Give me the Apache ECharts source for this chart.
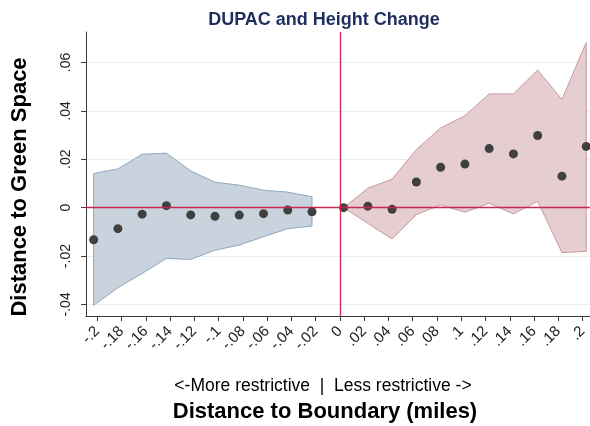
<!DOCTYPE html>
<html>
<head>
<meta charset="utf-8">
<script src="https://cdn.jsdelivr.net/npm/echarts@6.0.0/dist/echarts.min.js"></script>
<style>
  html, body { margin: 0; padding: 0; background: #fff; }
  #chart { width: 590px; height: 426px; }
</style>
</head>
<body>
<div id="chart"></div>
<script>
// left side (more restrictive)
const xLeft = [-0.203, -0.183, -0.163, -0.143, -0.123, -0.103, -0.083, -0.063, -0.043, -0.023]
const estLeft = [-0.0133, -0.0087, -0.0027, 0.0008, -0.0030, -0.0036, -0.0031, -0.0025, -0.0010, -0.0017]
const hiLeft = [0.0141, 0.0160, 0.0221, 0.0225, 0.0152, 0.0105, 0.0093, 0.0072, 0.0064, 0.0045]
const loLeft = [-0.0404, -0.0331, -0.0272, -0.0210, -0.0214, -0.0176, -0.0155, -0.0120, -0.0087, -0.0076]

// right side (less restrictive)
const xRight = [0.003, 0.023, 0.043, 0.063, 0.083, 0.103, 0.123, 0.143, 0.163, 0.183, 0.203]
const estRight = [0.0000, 0.0006, -0.0007, 0.0106, 0.0167, 0.0180, 0.0244, 0.0222, 0.0298, 0.0130, 0.0253]
const hiRight = [0.0000, 0.0080, 0.0118, 0.0240, 0.0329, 0.0380, 0.0470, 0.0470, 0.0569, 0.0447, 0.0683]
const loRight = [0.0000, -0.0065, -0.0130, -0.0029, 0.0011, -0.0019, 0.0018, -0.0026, 0.0026, -0.0186, -0.0181]

const xTicks = [-0.2, -0.18, -0.16, -0.14, -0.12, -0.1, -0.08, -0.06, -0.04, -0.02, 0,
  0.02, 0.04, 0.06, 0.08, 0.1, 0.12, 0.14, 0.16, 0.18, 0.2]
const xTickLabels = ['-.2', '-.18', '-.16', '-.14', '-.12', '-.1', '-.08', '-.06', '-.04', '-.02', '0',
  '.02', '.04', '.06', '.08', '.1', '.12', '.14', '.16', '.18', '.2']
const yTicks = [-0.04, -0.02, 0, 0.02, 0.04, 0.06]
const yTickLabels = ['-.04', '-.02', '0', '.02', '.04', '.06']

const lookup = (ticks, labels) => v => {
  for (let i = 0; i < ticks.length; i++) {
    if (Math.abs(ticks[i] - v) < 1e-9) return labels[i]
  }
  return ''
}

// confidence band as a polygon: upper edge left->right, lower edge back
function band(xs, lo, hi, fill, stroke) {
  return {
    type: 'custom',
    silent: true,
    z: 1,
    data: [[xs[0], lo[0]]],
    renderItem: (params, api) => {
      const pts = []
      for (let i = 0; i < xs.length; i++) pts.push(api.coord([xs[i], hi[i]]))
      for (let i = xs.length - 1; i >= 0; i--) pts.push(api.coord([xs[i], lo[i]]))
      return {
        type: 'polygon',
        shape: { points: pts },
        style: { fill: fill, stroke: stroke, lineWidth: 1 }
      }
    }
  }
}

const red = '#c8284f'
const axisColor = '#3a3a3a'

const myChart = echarts.init(document.getElementById('chart'))
myChart.setOption({
  animation: false,
  backgroundColor: '#ffffff',
  grid: { left: 86, right: 0, top: 32, bottom: 110, containLabel: false },
  xAxis: {
    type: 'value',
    min: -0.2093,
    max: 0.206,
    axisLine: { show: true, onZero: false, lineStyle: { color: axisColor, width: 1 } },
    axisTick: { show: true, length: 5, customValues: xTicks, lineStyle: { color: axisColor } },
    axisLabel: {
      customValues: xTicks,
      rotate: 45,
      margin: 13,
      fontFamily: 'Liberation Sans',
      fontSize: 15,
      color: '#222',
      formatter: lookup(xTicks, xTickLabels)
    },
    splitLine: { show: false }
  },
  yAxis: {
    type: 'value',
    min: -0.0448,
    max: 0.0726,
    axisLine: { show: true, onZero: false, lineStyle: { color: axisColor, width: 1 } },
    axisTick: { show: true, length: 5, customValues: yTicks, lineStyle: { color: axisColor } },
    axisLabel: {
      customValues: yTicks,
      rotate: 90,
      margin: 13,
      fontFamily: 'Liberation Sans',
      fontSize: 14,
      color: '#222',
      formatter: lookup(yTicks, yTickLabels)
    },
    splitLine: { show: true, lineStyle: { color: '#e6eff2', width: 1 } }
  },
  graphic: [
    {
      type: 'text', x: 324, y: 20,
      style: { text: 'DUPAC and Height Change', font: 'bold 18px "Liberation Sans"', fill: '#1e2f5e', textAlign: 'center', textVerticalAlign: 'middle' }
    },
    {
      type: 'text', x: 20, y: 187, rotation: Math.PI / 2,
      style: { text: 'Distance to Green Space', font: 'bold 22px "Liberation Sans"', fill: '#000', textAlign: 'center', textVerticalAlign: 'middle' }
    },
    {
      type: 'text', x: 323, y: 386,
      style: { text: '<-More restrictive  |  Less restrictive ->', font: '17.5px "Liberation Sans"', fill: '#000', textAlign: 'center', textVerticalAlign: 'middle' }
    },
    {
      type: 'text', x: 325, y: 412,
      style: { text: 'Distance to Boundary (miles)', font: 'bold 22px "Liberation Sans"', fill: '#000', textAlign: 'center', textVerticalAlign: 'middle' }
    }
  ],
  series: [
    band(xLeft, loLeft, hiLeft, '#c8d3dd', '#8ea7be'),
    band(xRight, loRight, hiRight, '#e5cdd1', '#c99aa1'),
    {
      type: 'scatter',
      z: 3,
      symbolSize: 9,
      itemStyle: { color: '#404040', opacity: 1 },
      data: xLeft.map((x, i) => [x, estLeft[i]]).concat(xRight.map((x, i) => [x, estRight[i]])),
      markLine: {
        silent: true,
        symbol: 'none',
        label: { show: false },
        lineStyle: { color: red, width: 1.3, type: 'solid' },
        data: [{ xAxis: 0 }, { yAxis: 0 }]
      }
    }
  ]
})
</script>
</body>
</html>
